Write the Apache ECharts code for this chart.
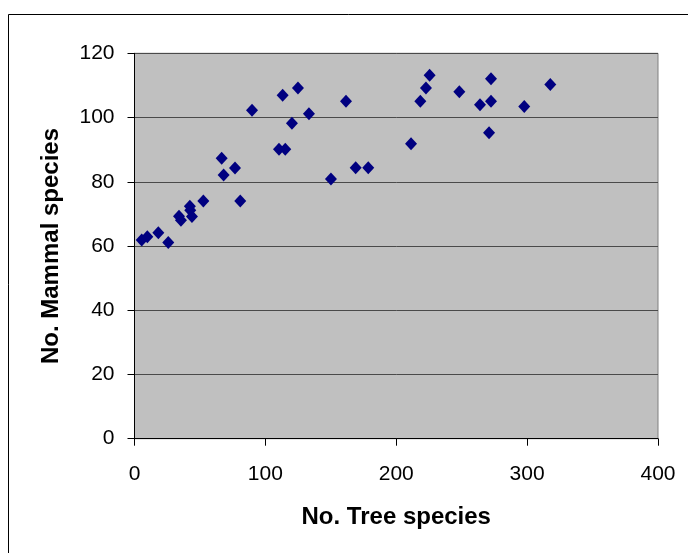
<!DOCTYPE html>
<html>
<head>
<meta charset="utf-8">
<script src="https://cdn.jsdelivr.net/npm/echarts@6/dist/echarts.min.js"></script>
<style>
  html, body { margin: 0; padding: 0; background: #fff; }
  #chart { width: 688px; height: 553px; }
</style>
</head>
<body>
<div id="chart"></div>
<script>
// 树种数 vs 哺乳动物种数
const treeSpecies = [
  5.5, 9.8, 18.2, 25.8, 34, 35.5, 42.3, 42.6, 43.9, 52.6,
  66.6, 68.1, 76.8, 80.8, 89.8, 110.4, 115.2, 113.2, 120.3, 124.9,
  133.3, 161.6, 150.1, 169, 178.6, 211.3, 218.4, 222.7, 225.5, 248.2,
  264, 272.4, 272.4, 270.9, 297.8, 317.7
];
const mammalSpecies = [
  61.9, 62.9, 64.1, 61.1, 69.3, 68, 72.4, 71.1, 69.2, 74,
  87.3, 82.1, 84.3, 74, 102.3, 90.1, 90.1, 106.9, 98.2, 109.2,
  101.2, 105.1, 80.9, 84.4, 84.4, 91.8, 105.1, 109.2, 113.2, 108,
  104, 105.1, 112.1, 95.3, 103.4, 110.3
];
const xTicks = [0, 100, 200, 300, 400];
const yTicks = [0, 20, 40, 60, 80, 100, 120];

const points = treeSpecies.map((x, i) => [x, mammalSpecies[i]]);

const chart = echarts.init(document.getElementById('chart'));

const font = 'Liberation Sans, Arial, sans-serif';

const option = {
  animation: false,
  backgroundColor: '#fff',
  graphic: [
    {
      type: 'rect',
      shape: { x: 8.5, y: 14.5, width: 700, height: 560 },
      style: { fill: 'none', stroke: '#000', lineWidth: 1 },
      silent: true,
      z: -1
    }
  ],
  grid: {
    left: 134.5,
    right: 30,
    top: 53.3,
    bottom: 114.3,
    show: true,
    backgroundColor: '#c0c0c0',
    borderColor: '#808080',
    borderWidth: 1
  },
  xAxis: {
    type: 'value',
    min: xTicks[0],
    max: xTicks[xTicks.length - 1],
    interval: 100,
    name: 'No. Tree species',
    nameLocation: 'middle',
    nameGap: 67,
    nameTextStyle: { fontFamily: font, fontSize: 24, fontWeight: 'bold', color: '#000' },
    axisLine: { show: true, lineStyle: { color: '#000', width: 1 } },
    axisTick: { show: true, length: 7, lineStyle: { color: '#000' } },
    axisLabel: { fontFamily: font, fontSize: 21, color: '#000', margin: 25 },
    splitLine: { show: false }
  },
  yAxis: {
    type: 'value',
    min: yTicks[0],
    max: yTicks[yTicks.length - 1],
    interval: 20,
    name: 'No. Mammal species',
    nameLocation: 'middle',
    nameGap: 71,
    nameTextStyle: { fontFamily: font, fontSize: 24, fontWeight: 'bold', color: '#000' },
    axisLine: { show: true, lineStyle: { color: '#000', width: 1 } },
    axisTick: { show: true, length: 7, lineStyle: { color: '#000' } },
    axisLabel: { fontFamily: font, fontSize: 21, color: '#000', margin: 20 },
    splitLine: { show: true, lineStyle: { color: '#4a4a4a', width: 1 } }
  },
  series: [
    {
      name: 'species',
      type: 'scatter',
      data: points,
      symbol: 'diamond',
      symbolSize: [12, 13],
      itemStyle: { color: '#000080', opacity: 1 }
    }
  ]
};

chart.setOption(option);
</script>
</body>
</html>
